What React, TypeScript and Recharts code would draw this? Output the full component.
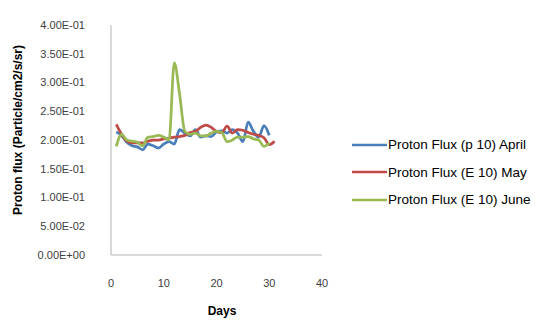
import { Line, LineChart, XAxis, YAxis } from "recharts";

// Values (particle/cm2/s/sr).
const APRIL = [
  0.214, 0.208, 0.196, 0.19, 0.188, 0.183, 0.193, 0.19, 0.186, 0.193,
  0.197, 0.193, 0.218, 0.212, 0.207, 0.218, 0.205, 0.207, 0.206, 0.214,
  0.216, 0.212, 0.218, 0.212, 0.197, 0.231, 0.215, 0.205, 0.225, 0.208,
];
const MAY = [
  0.227, 0.21, 0.198, 0.195, 0.195, 0.195, 0.198, 0.2, 0.2, 0.202,
  0.203, 0.205, 0.206, 0.208, 0.213, 0.215, 0.222, 0.226, 0.222, 0.215,
  0.213, 0.224, 0.212, 0.218, 0.217, 0.213, 0.21, 0.208, 0.204, 0.192,
  0.198,
];
const JUNE = [
  0.189, 0.21, 0.2, 0.198, 0.196, 0.19, 0.205, 0.206, 0.208, 0.205,
  0.2, 0.334, 0.28, 0.215, 0.21, 0.212, 0.207, 0.207, 0.212, 0.215,
  0.213, 0.197, 0.2, 0.205, 0.205, 0.206, 0.202, 0.2, 0.189, 0.195,
];

const SERIES = [
  { key: "april", name: "Proton Flux (p 10) April", values: APRIL, color: "#4a7ebb" },
  { key: "may", name: "Proton Flux (E 10) May", values: MAY, color: "#be4b48" },
  { key: "june", name: "Proton Flux (E 10) June", values: JUNE, color: "#98b954" },
];

const X_TICKS = [0, 10, 20, 30, 40];
const Y_TICKS = [0, 0.05, 0.1, 0.15, 0.2, 0.25, 0.3, 0.35, 0.4];

const FONT = "'Liberation Sans', Arial, sans-serif";
const TEXT = "#404040";
const AXIS = "#b3b3b3";

function sci(v: number) {
  const [m, e] = v.toExponential(2).split("e");
  const sign = e.startsWith("-") ? "-" : "+";
  const digits = e.replace(/[-+]/, "").padStart(2, "0");
  return `${m}E${sign}${digits}`;
}

type Row = { day: number; [k: string]: number };

function buildRows(): Row[] {
  const n = Math.max(...SERIES.map((s) => s.values.length));
  const rows: Row[] = [];
  for (let i = 0; i < n; i++) {
    const row = { day: i + 1 } as Row;
    for (const s of SERIES) {
      if (i < s.values.length) row[s.key] = s.values[i];
    }
    rows.push(row);
  }
  return rows;
}

// Legend kept outside the chart so it doesn't eat into the plot area.
function LegendBox() {
  return (
    <div
      style={{
        position: "absolute",
        left: 352,
        top: 131,
        fontFamily: FONT,
        fontSize: 13.5,
        color: "#000",
        whiteSpace: "nowrap",
      }}
    >
      {SERIES.map((s) => (
        <div key={s.key} style={{ display: "flex", alignItems: "center", height: 27.5 }}>
          <svg width={35} height={6} style={{ marginRight: 1 }}>
            <line x1={0} y1={3} x2={35} y2={3} stroke={s.color} strokeWidth={2.5} />
          </svg>
          <span>{s.name}</span>
        </div>
      ))}
    </div>
  );
}

export default function App() {
  const data = buildRows();
  return (
    <div style={{ position: "absolute", left: 0, top: 0, width: 545, height: 327, background: "#fff" }}>
      <LineChart
        width={545}
        height={327}
        data={data}
        margin={{ top: 25, right: 223, bottom: 12, left: 11 }}
      >
        <XAxis
          dataKey="day"
          type="number"
          domain={[0, 40]}
          ticks={X_TICKS}
          tickLine={false}
          stroke={AXIS}
          tick={{ fill: TEXT, fontSize: 11, fontFamily: FONT }}
          tickMargin={18}
          height={60}
          label={{
            content: () => (
              <text x={222} y={315} textAnchor="middle" fontFamily={FONT} fontSize={12} fontWeight="bold" fill="#000">
                Days
              </text>
            ),
          }}
        />
        <YAxis
          type="number"
          domain={[0, 0.4]}
          ticks={Y_TICKS}
          tickFormatter={sci}
          tickLine={false}
          stroke={AXIS}
          tick={{ fill: TEXT, fontSize: 11, fontFamily: FONT }}
          tickMargin={20}
          width={100}
          label={{
            content: () => (
              <text
                x={22}
                y={130}
                transform="rotate(-90 22 130)"
                textAnchor="middle"
                fontFamily={FONT}
                fontSize={12}
                fontWeight="bold"
                fill="#000"
              >
                Proton flux (Particle/cm2/s/sr)
              </text>
            ),
          }}
        />
        {SERIES.map((s) => (
          <Line
            key={s.key}
            type="monotone"
            dataKey={s.key}
            name={s.name}
            stroke={s.color}
            strokeWidth={2.75}
            dot={false}
            isAnimationActive={false}
          />
        ))}
      </LineChart>
      <LegendBox />
    </div>
  );
}
